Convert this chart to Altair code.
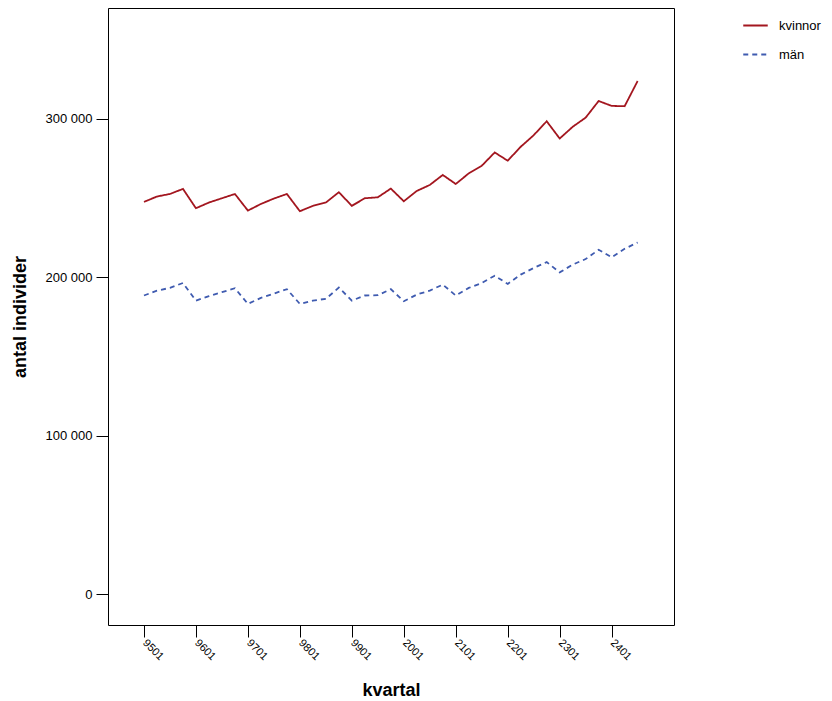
import altair as alt
import pandas as pd

year_labels = ['9501', '9601', '9701', '9801', '9901', '2001', '2101', '2201', '2301', '2401']

kvinnor = [247.6, 251.0, 252.6, 255.8, 243.6, 247.2, 249.9, 252.6, 242.1, 246.3,
           249.7, 252.6, 241.7, 245.1, 247.2, 253.7, 245.1, 249.9, 250.5, 256.0,
           248.0, 254.5, 258.3, 264.6, 258.9, 265.6, 270.4, 278.8, 273.6, 282.4,
           289.7, 298.5, 287.6, 295.0, 300.8, 311.3, 308.2, 308.0, 323.9]
man = [188.5, 191.6, 193.3, 196.4, 185.3, 188.1, 190.6, 193.1, 183.2, 187.0,
       189.7, 192.5, 183.2, 185.3, 186.4, 193.5, 185.3, 188.5, 188.7, 192.5,
       184.9, 189.1, 191.6, 195.4, 188.5, 193.3, 196.4, 201.0, 195.8, 201.7,
       205.9, 209.6, 203.1, 208.0, 211.5, 217.4, 212.6, 218.0, 222.0]

rows = []
for i, v in enumerate(kvinnor):
    rows.append({'idx': i, 'serie': 'kvinnor', 'antal': v * 1000})
for i, v in enumerate(man):
    rows.append({'idx': i, 'serie': 'män', 'antal': v * 1000})
df = pd.DataFrame(rows)

label_expr = "%s[floor(datum.value / 4)]" % str(year_labels)

chart = (
    alt.Chart(df)
    .mark_line(strokeWidth=1.8)
    .encode(
        x=alt.X('idx:Q', title='kvartal',
                scale=alt.Scale(domain=[-2.77, 40.8], nice=False, zero=False),
                axis=alt.Axis(values=list(range(0, 40, 4)), labelExpr=label_expr,
                              labelAngle=45, labelAlign='left', labelBaseline='middle',
                              grid=False, domain=False, tickSize=12, tickColor='black',
                              labelFontSize=11, labelPadding=4,
                              titleFontSize=18, titleFontWeight='bold', titlePadding=20)),
        y=alt.Y('antal:Q', title='antal individer',
                scale=alt.Scale(domain=[-19500, 370000], nice=False, zero=False),
                axis=alt.Axis(values=[0, 100000, 200000, 300000],
                              labelExpr="replace(format(datum.value, ',d'), ',', ' ')",
                              grid=False, domain=False, tickSize=12, tickColor='black',
                              labelFontSize=13, labelPadding=4,
                              titleFontSize=18, titleFontWeight='bold', titlePadding=16)),
        color=alt.Color('serie:N', title=None,
                        scale=alt.Scale(domain=['kvinnor', 'män'], range=['#a3161f', '#3f5bb0'])),
        strokeDash=alt.StrokeDash('serie:N', title=None,
                                  scale=alt.Scale(domain=['kvinnor', 'män'], range=[[1, 0], [5, 4]])),
    )
    .properties(width=566, height=617, padding={'left': 100, 'top': 0, 'right': 150, 'bottom': 80},
                autosize='none')
    .configure_view(stroke='black', strokeWidth=1)
    .configure_axis(labelFont='Liberation Sans', titleFont='Liberation Sans', labelColor='black')
    .configure_legend(orient='none', legendX=634, legendY=4, labelFont='Liberation Sans',
                      labelFontSize=13, symbolType='stroke', symbolSize=600, symbolStrokeWidth=2,
                      rowPadding=8, labelOffset=10)
)

chart.save("out.html", embed_options={"renderer": "svg", "actions": False})
